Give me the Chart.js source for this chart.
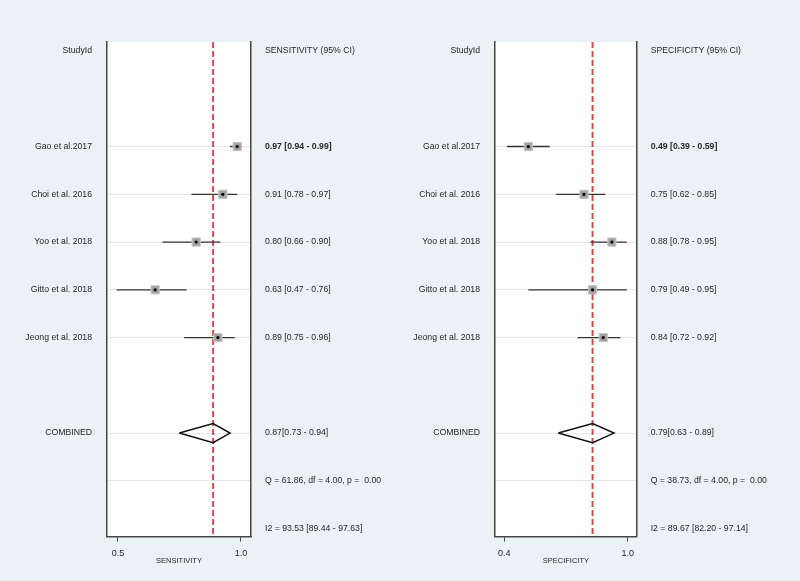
<!DOCTYPE html>
<html>
<head>
<meta charset="utf-8">
<script src="https://cdn.jsdelivr.net/npm/chart.js@4.4.0/dist/chart.umd.min.js"></script>
<style>
  html, body { margin: 0; padding: 0; background: #eaf2f5; }
  #wrap { position: relative; width: 800px; height: 581px; overflow: hidden; }
  .panel { position: absolute; top: 0; width: 400px; height: 581px; }
</style>
</head>
<body>
<div id="wrap">
  <div class="panel" style="left:0"><canvas id="c1" width="400" height="581"></canvas></div>
  <div class="panel" style="left:400px"><canvas id="c2" width="400" height="581"></canvas></div>
</div>
<script>
// ---------------- data ----------------
const studies = ['Gao et al.2017', 'Choi et al. 2016', 'Yoo et al. 2018', 'Gitto et al. 2018', 'Jeong et al. 2018'];

const sensEst = [0.97, 0.91, 0.80, 0.63, 0.89];
const sensLo  = [0.94, 0.78, 0.66, 0.47, 0.75];
const sensHi  = [0.99, 0.97, 0.90, 0.76, 0.96];
const sensPooled = [0.87, 0.73, 0.94];          // estimate, lower, upper
const sensQ  = [61.86, 4.00, 0.00];              // Q, df, p
const sensI2 = [93.53, 89.44, 97.63];

const specEst = [0.49, 0.75, 0.88, 0.79, 0.84];
const specLo  = [0.39, 0.62, 0.78, 0.49, 0.72];
const specHi  = [0.59, 0.85, 0.95, 0.95, 0.92];
const specPooled = [0.79, 0.63, 0.89];
const specQ  = [38.73, 4.00, 0.00];
const specI2 = [89.67, 82.20, 97.14];

const sensTicks = [0.5, 1.0];
const specTicks = [0.4, 1.0];

const headerLeft = 'StudyId';
const combinedLabel = 'COMBINED';

// ---------------- layout / style ----------------
const FONT = "'Liberation Sans', Arial, Helvetica, sans-serif";
const FS = 8.7;
const ROW_HEADER = -2, ROW_COMBINED = 6, ROW_Q = 7, ROW_I2 = 8;
const Y_MIN = -2.19, Y_MAX = 8.17;
const GRID_ROWS = [0, 1, 2, 3, 4, ROW_COMBINED, ROW_Q];
const TEXT = '#262626';
const AXIS = '#454545';

const f2 = v => v.toFixed(2);

function buildPanel(canvasId, p) {
  const rowVals = [ROW_HEADER, 0, 1, 2, 3, 4, ROW_COMBINED, ROW_Q, ROW_I2];
  const leftMap = new Map();
  const rightMap = new Map();
  leftMap.set(ROW_HEADER, headerLeft);
  rightMap.set(ROW_HEADER, p.header);
  studies.forEach((s, i) => {
    leftMap.set(i, s);
    rightMap.set(i, `${f2(p.est[i])} [${f2(p.lo[i])} - ${f2(p.hi[i])}]`);
  });
  leftMap.set(ROW_COMBINED, combinedLabel);
  rightMap.set(ROW_COMBINED, `${f2(p.pooled[0])}[${f2(p.pooled[1])} - ${f2(p.pooled[2])}]`);
  rightMap.set(ROW_Q, `Q = ${f2(p.q[0])}, df = ${f2(p.q[1])}, p =  ${f2(p.q[2])}`);
  rightMap.set(ROW_I2, `I2 = ${f2(p.i2[0])} [${f2(p.i2[1])} - ${f2(p.i2[2])}]`);

  const datasets = [];
  // CI whiskers (drawn beneath the squares)
  studies.forEach((s, i) => {
    datasets.push({
      type: 'scatter', showLine: true, order: 3,
      data: [{x: p.lo[i], y: i}, {x: p.hi[i], y: i}],
      borderColor: '#333', borderWidth: 1.4, pointRadius: 0, xAxisID: 'x', yAxisID: 'y'
    });
  });
  // grey squares
  datasets.push({
    type: 'scatter', order: 2,
    data: studies.map((s, i) => ({x: p.est[i], y: i})),
    pointStyle: 'rect', pointRadius: 5.8, backgroundColor: '#a3a3a3',
    borderColor: '#c4c4c4', borderWidth: 1, xAxisID: 'x', yAxisID: 'y'
  });
  // center dots
  datasets.push({
    type: 'scatter', order: 1,
    data: studies.map((s, i) => ({x: p.est[i], y: i})),
    pointStyle: 'circle', pointRadius: 1.6, backgroundColor: '#000',
    borderColor: '#000', borderWidth: 0, xAxisID: 'x', yAxisID: 'y'
  });
  // pooled diamond
  const dh = 0.2;
  datasets.push({
    type: 'scatter', showLine: true, order: 0,
    data: [
      {x: p.pooled[1], y: ROW_COMBINED},
      {x: p.pooled[0], y: ROW_COMBINED - dh},
      {x: p.pooled[2], y: ROW_COMBINED},
      {x: p.pooled[0], y: ROW_COMBINED + dh},
      {x: p.pooled[1], y: ROW_COMBINED}
    ],
    borderColor: '#111', borderWidth: 1.5, pointRadius: 0, tension: 0,
    xAxisID: 'x', yAxisID: 'y'
  });

  const plugins = [{
    id: 'bg',
    beforeDraw(chart) {
      const {ctx, chartArea: a} = chart;
      ctx.save();
      ctx.fillStyle = '#ffffff';
      ctx.fillRect(a.left, a.top, a.right - a.left, a.bottom - a.top);
      ctx.restore();
    }
  }, {
    id: 'refline',
    beforeDatasetsDraw(chart) {
      const {ctx, chartArea: a} = chart;
      const px = chart.scales.x.getPixelForValue(p.pooled[0]);
      ctx.save();
      ctx.strokeStyle = '#d9464c';
      ctx.lineWidth = 2;
      ctx.setLineDash([6, 3]);
      ctx.beginPath();
      ctx.moveTo(px, a.top);
      ctx.lineTo(px, a.bottom);
      ctx.stroke();
      ctx.restore();
    }
  }];

  return new Chart(document.getElementById(canvasId), {
    type: 'scatter',
    data: { datasets },
    plugins,
    options: {
      responsive: false,
      devicePixelRatio: 1,
      animation: false,
      layout: { padding: { top: 42, left: 0, right: 0, bottom: 0 } },
      plugins: { legend: { display: false }, tooltip: { enabled: false } },
      scales: {
        x: { type: 'linear', display: false, min: p.dataMin, max: p.dataMax },
        xt: {
          type: 'linear', position: 'bottom', min: p.tickMin, max: p.tickMax,
          afterBuildTicks: s => { s.ticks = p.ticks.map(v => ({ value: v })); },
          ticks: {
            callback: v => Number(v).toFixed(1), padding: 6.5, autoSkip: false, maxRotation: 0,
            color: TEXT, font: { family: FONT, size: 9 }
          },
          grid: { drawOnChartArea: false, drawTicks: true, tickLength: 5, color: AXIS, lineWidth: 1 },
          border: { display: true, color: AXIS, width: 1.5 },
          title: {
            display: true, text: p.axisTitle, color: TEXT,
            font: { family: FONT, size: 7.5 }, padding: { top: 0, bottom: 15.5 }
          },
          afterFit: s => { s.height = 44.3; }
        },
        y: {
          type: 'linear', position: 'left', min: Y_MIN, max: Y_MAX, reverse: true,
          afterBuildTicks: s => { s.ticks = rowVals.map(v => ({ value: v })); },
          ticks: {
            callback: v => leftMap.get(v) ?? '', padding: 15, autoSkip: false,
            color: TEXT, font: { family: FONT, size: FS }
          },
          grid: {
            drawTicks: false, lineWidth: 1,
            color: ctx => (ctx.tick && GRID_ROWS.includes(ctx.tick.value)) ? '#e1e9ee' : 'rgba(0,0,0,0)'
          },
          border: { display: true, color: AXIS, width: 1.5 },
          afterFit: s => { s.width = p.leftW; }
        },
        y2: {
          type: 'linear', position: 'right', min: Y_MIN, max: Y_MAX, reverse: true,
          afterBuildTicks: s => { s.ticks = rowVals.map(v => ({ value: v })); },
          ticks: {
            callback: v => rightMap.get(v) ?? '', padding: 14, autoSkip: false,
            color: TEXT,
            font: ctx => ({ family: FONT, size: FS, weight: (ctx.tick && ctx.tick.value === 0) ? 'bold' : 'normal' })
          },
          grid: { drawOnChartArea: false, drawTicks: false },
          border: { display: true, color: AXIS, width: 1.5 },
          afterFit: s => { s.width = p.rightW; }
        }
      }
    }
  });
}

buildPanel('c1', {
  est: sensEst, lo: sensLo, hi: sensHi, pooled: sensPooled, q: sensQ, i2: sensI2,
  header: 'SENSITIVITY (95% CI)', axisTitle: 'SENSITIVITY', ticks: sensTicks,
  dataMin: 0.4305, dataMax: 1.027, tickMin: 0.4553, tickMax: 1.0407,
  leftW: 107, rightW: 149
});

buildPanel('c2', {
  est: specEst, lo: specLo, hi: specHi, pooled: specPooled, q: specQ, i2: specI2,
  header: 'SPECIFICITY (95% CI)', axisTitle: 'SPECIFICITY', ticks: specTicks,
  dataMin: 0.3345, dataMax: 0.996, tickMin: 0.3548, tickMax: 1.0438,
  leftW: 95, rightW: 163.3
});
</script>
</body>
</html>
